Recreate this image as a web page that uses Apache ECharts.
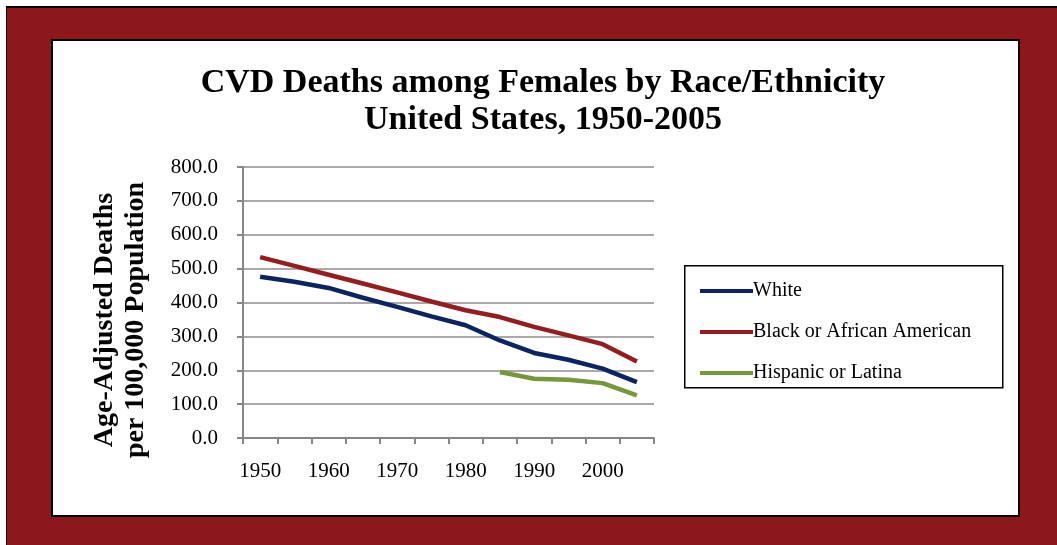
<!DOCTYPE html>
<html>
<head>
<meta charset="utf-8">
<script src="https://cdn.jsdelivr.net/npm/echarts@6/dist/echarts.min.js"></script>
<style>
  html, body { margin: 0; padding: 0; background: #fff; }
  .frame {
    position: absolute; left: 6px; top: 6px; width: 1051px; height: 539px;
    background: #8c181c; border-left: 1px solid #000; border-top: 2px solid #000;
    box-sizing: border-box;
  }
  .inner {
    position: absolute; left: 51px; top: 39px; width: 969px; height: 478px;
    background: #fff; border: 2px solid #000; box-sizing: border-box;
  }
  #chart { position: absolute; left: 0; top: 0; width: 1057px; height: 545px; }
</style>
</head>
<body>
<div class="frame"></div>
<div class="inner"></div>
<div id="chart"></div>
<script>
  const years = ["1950", "1955", "1960", "1965", "1970", "1975", "1980", "1985", "1990", "1995", "2000", "2005"];
  const white = [476, 461, 443, 414, 387, 359, 333, 288, 251, 231, 205, 165];
  const black = [534, 508, 482, 456, 430, 403, 377, 357, 328, 303, 277, 226];
  const hispanic = [null, null, null, null, null, null, null, 195, 175, 172, 162, 126];
  const yTicks = { min: 0, max: 800, step: 100 };

  const serif = "Liberation Serif";
  const myChart = echarts.init(document.getElementById("chart"), null, { renderer: "canvas" });

  const option = {
    backgroundColor: "transparent",
    animation: false,
    title: {
      text: "CVD Deaths among Females by Race/Ethnicity\nUnited States, 1950-2005",
      left: 538,
      top: 60,
      textAlign: "center",
      textStyle: {
        fontFamily: serif,
        fontWeight: "bold",
        fontSize: 34,
        lineHeight: 37,
        color: "#000",
      },
    },
    graphic: [
      {
        type: "rect",
        left: 684,
        top: 265,
        shape: { width: 318, height: 122 },
        style: { fill: "#fff", stroke: "#000", lineWidth: 1.5 },
        z: 0,
      },
      {
        type: "text",
        x: 120,
        y: 320,
        rotation: Math.PI / 2,
        style: {
          text: "Age-Adjusted Deaths\nper 100,000 Population",
          font: "bold 28px 'Liberation Serif'",
          fill: "#000",
          align: "center",
          verticalAlign: "middle",
          lineHeight: 31,
        },
      },
    ],
    legend: {
      orient: "vertical",
      left: 695,
      top: 276,
      icon: "rect",
      itemWidth: 53,
      itemHeight: 4,
      itemGap: 21,
      z: 5,
      textStyle: { fontFamily: serif, fontSize: 20, lineHeight: 20, color: "#000", padding: [0, 0, 0, -5] },
      data: ["White", "Black or African American", "Hispanic or Latina"],
    },
    grid: {
      left: 243,
      top: 167,
      width: 411,
      height: 271,
      containLabel: false,
    },
    xAxis: {
      type: "category",
      data: years,
      boundaryGap: true,
      axisLine: { lineStyle: { color: "#878787", width: 2 } },
      axisTick: { show: true, length: 6, interval: 0, lineStyle: { color: "#878787", width: 2 } },
      axisLabel: {
        interval: 1,
        margin: 23,
        fontFamily: serif,
        fontSize: 21,
        color: "#000",
      },
      splitLine: { show: false },
    },
    yAxis: {
      type: "value",
      min: yTicks.min,
      max: yTicks.max,
      interval: yTicks.step,
      axisLine: { show: true, lineStyle: { color: "#878787", width: 2 } },
      axisTick: { show: true, length: 6, lineStyle: { color: "#878787", width: 2 } },
      axisLabel: {
        margin: 25,
        fontFamily: serif,
        fontSize: 21,
        color: "#000",
        formatter: (v) => v.toFixed(1),
      },
      splitLine: { lineStyle: { color: "#8c8c8c", width: 1.5 } },
    },
    series: [
      {
        name: "White",
        type: "line",
        data: white,
        symbol: "none",
        lineStyle: { color: "#0c2461", width: 4.5 },
        itemStyle: { color: "#0c2461" },
      },
      {
        name: "Black or African American",
        type: "line",
        data: black,
        symbol: "none",
        lineStyle: { color: "#951c1f", width: 4.5 },
        itemStyle: { color: "#951c1f" },
      },
      {
        name: "Hispanic or Latina",
        type: "line",
        data: hispanic,
        symbol: "none",
        lineStyle: { color: "#76973a", width: 4.5 },
        itemStyle: { color: "#76973a" },
      },
    ],
  };

  option && myChart.setOption(option);
</script>
</body>
</html>
